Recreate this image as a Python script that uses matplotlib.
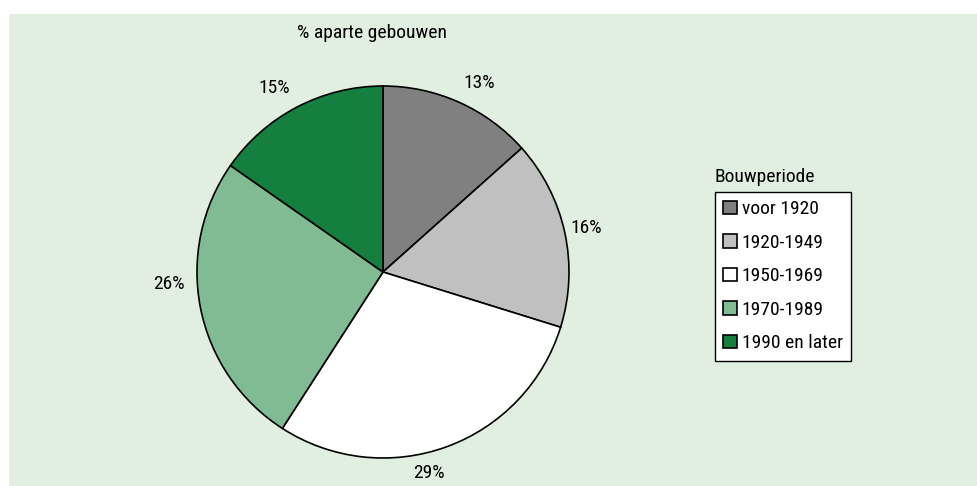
import numpy as np
import matplotlib
matplotlib.use("Agg")
import matplotlib.pyplot as plt
from matplotlib.patches import Rectangle, Patch
from matplotlib import font_manager

fl = font_manager.fontManager.ttflist
names = {f.name for f in fl}
stretch = "normal"
if "Liberation Sans Narrow" in names:
    FONT = ["Liberation Sans Narrow", "DejaVu Sans"]
elif "Roboto Condensed" in names:
    FONT = ["Roboto Condensed", "DejaVu Sans"]
elif any("Condensed" in f.fname and f.name == "DejaVu Sans" for f in fl):
    FONT = ["DejaVu Sans"]
    stretch = "condensed"
else:
    FONT = ["Liberation Sans", "DejaVu Sans"]
plt.rcParams["font.family"] = FONT
plt.rcParams["font.stretch"] = stretch

# ---- data ----
categories = ["voor 1920", "1920-1949", "1950-1969", "1970-1989", "1990 en later"]
values = [13.4, 16.4, 29.3, 25.6, 15.3]
labels = ["13%", "16%", "29%", "26%", "15%"]
title = "% aparte gebouwen"
legend_title = "Bouwperiode"

colors = ["#808080", "#c0c0c0", "#ffffff", "#80bb94", "#147f3e"]
label_angle_shift = [-3, 0, -7, -8, 3]
label_dist = [1.14, 1.12, 1.11, 1.15, 1.15]
bg = "#e1efe1"
FS = 14

W, H = 977, 486
fig = plt.figure(figsize=(W / 100, H / 100), dpi=100)
fig.patch.set_facecolor("white")
fig.patches.append(Rectangle((9 / W, 0), 1 - 9 / W, (H - 14) / H,
                             transform=fig.transFigure, facecolor=bg,
                             edgecolor="none", zorder=-10))

cx, cy, r = 383, 272, 186
ax = fig.add_axes([(cx - r) / W, (H - cy - r) / H, 2 * r / W, 2 * r / H])
ax.set_axis_off()
wedges, _ = ax.pie(values, colors=colors, startangle=90, counterclock=False,
                   wedgeprops=dict(edgecolor="black", linewidth=1.2),
                   radius=1.0)
ax.set_xlim(-1, 1)
ax.set_ylim(-1, 1)
ax.set_aspect("equal")

total = sum(values)
cum = 0
for v, lab, sh, d in zip(values, labels, label_angle_shift, label_dist):
    mid = 90 - (cum + v / 2) / total * 360 + sh
    cum += v
    ax.text(d * np.cos(np.radians(mid)), d * np.sin(np.radians(mid)), lab,
            ha="center", va="center", fontsize=FS)

fig.text(372 / W, 1 - 33 / H, title, ha="center", va="center", fontsize=FS)

fig.text(714 / W, 1 - 177 / H, legend_title, ha="left", va="center", fontsize=FS)
handles = [Patch(facecolor=c, edgecolor="black", linewidth=1.2) for c in colors]
leg = fig.legend(handles, categories, loc="upper left",
                 bbox_to_anchor=(715 / W, 1 - 192 / H), frameon=True,
                 fancybox=False, shadow=False, fontsize=FS, framealpha=1,
                 handlelength=0.7, handleheight=0.7, handletextpad=0.25,
                 labelspacing=0.8, borderpad=0.42, borderaxespad=0)
leg.get_frame().set_edgecolor("black")
leg.get_frame().set_linewidth(1.0)
leg.get_frame().set_facecolor("white")

fig.savefig("out.png", dpi=100)
